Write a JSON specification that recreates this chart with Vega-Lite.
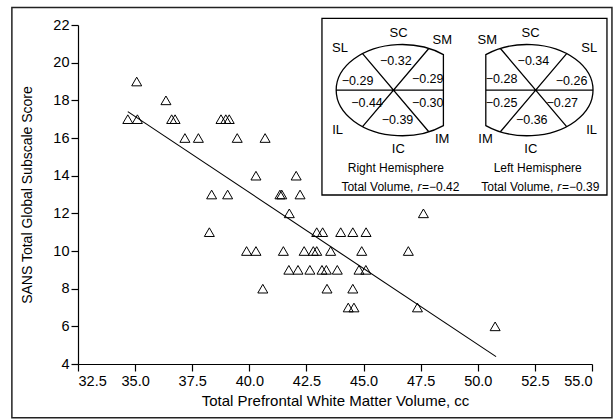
{
  "$schema": "https://vega.github.io/schema/vega-lite/v6.json",
  "width": 514,
  "height": 339,
  "autosize": {"type": "none"},
  "padding": {"left": 78, "top": 25, "right": 22, "bottom": 56},
  "background": "white",
  "config": {
    "view": {"stroke": null},
    "font": "Liberation Sans",
    "axis": {
      "grid": false,
      "domainColor": "#000",
      "tickColor": "#000",
      "labelColor": "#000",
      "titleColor": "#000",
      "titleFontWeight": "normal",
      "labelFont": "Liberation Sans",
      "titleFont": "Liberation Sans",
      "labelFontSize": 14.5,
      "titleFontSize": 15,
      "tickSize": 7,
      "domainWidth": 1.2,
      "tickWidth": 1.2,
      "labelOverlap": false
    }
  },
  "datasets": {
    "points": [
      {"vol": 34.68, "sans": 17}, {"vol": 35.1, "sans": 17}, {"vol": 35.07, "sans": 19},
      {"vol": 36.35, "sans": 18}, {"vol": 36.6, "sans": 17}, {"vol": 36.75, "sans": 17},
      {"vol": 37.18, "sans": 16}, {"vol": 37.77, "sans": 16}, {"vol": 38.76, "sans": 17},
      {"vol": 38.97, "sans": 17}, {"vol": 39.12, "sans": 17}, {"vol": 39.47, "sans": 16},
      {"vol": 40.69, "sans": 16}, {"vol": 40.29, "sans": 14}, {"vol": 42.05, "sans": 14},
      {"vol": 38.35, "sans": 13}, {"vol": 39.05, "sans": 13}, {"vol": 41.34, "sans": 13},
      {"vol": 41.42, "sans": 13}, {"vol": 42.22, "sans": 13}, {"vol": 41.75, "sans": 12},
      {"vol": 47.62, "sans": 12}, {"vol": 38.25, "sans": 11}, {"vol": 42.95, "sans": 11},
      {"vol": 43.21, "sans": 11}, {"vol": 44.0, "sans": 11}, {"vol": 44.53, "sans": 11},
      {"vol": 45.11, "sans": 11}, {"vol": 39.88, "sans": 10}, {"vol": 40.29, "sans": 10},
      {"vol": 41.49, "sans": 10}, {"vol": 42.4, "sans": 10}, {"vol": 42.8, "sans": 10},
      {"vol": 42.95, "sans": 10}, {"vol": 43.56, "sans": 10}, {"vol": 44.92, "sans": 10},
      {"vol": 46.96, "sans": 10}, {"vol": 41.73, "sans": 9}, {"vol": 42.13, "sans": 9},
      {"vol": 42.65, "sans": 9}, {"vol": 43.18, "sans": 9}, {"vol": 43.37, "sans": 9},
      {"vol": 43.85, "sans": 9}, {"vol": 44.8, "sans": 9}, {"vol": 45.1, "sans": 9},
      {"vol": 40.59, "sans": 8}, {"vol": 43.4, "sans": 8}, {"vol": 44.53, "sans": 8},
      {"vol": 44.33, "sans": 7}, {"vol": 44.58, "sans": 7}, {"vol": 47.36, "sans": 7},
      {"vol": 50.76, "sans": 6}
    ],
    "fit": [
      {"vol": 34.68, "sans": 17.4},
      {"vol": 50.8, "sans": 4.39}
    ],
    "hemis": [
      {"hemi": "Right", "u": 25.1, "v": 36.8},
      {"hemi": "Left", "u": 75.0, "v": 36.8}
    ],
    "regions": [
      {"t": "SL", "u": 6.3, "v": 51.5}, {"t": "SC", "u": 26.9, "v": 56.7}, {"t": "SM", "u": 42.2, "v": 54.5},
      {"t": "IL", "u": 5.5, "v": 22.8}, {"t": "IC", "u": 26.8, "v": 16.1}, {"t": "IM", "u": 42.2, "v": 19.6},
      {"t": "SM", "u": 58.0, "v": 54.5}, {"t": "SC", "u": 73.2, "v": 56.7}, {"t": "SL", "u": 93.8, "v": 51.5},
      {"t": "IM", "u": 57.4, "v": 19.6}, {"t": "IC", "u": 73.3, "v": 16.1}, {"t": "IL", "u": 94.6, "v": 22.8}
    ],
    "values": [
      {"t": "−0.32", "u": 25.9, "v": 47.0}, {"t": "−0.29", "u": 12.5, "v": 40.0}, {"t": "−0.29", "u": 37.1, "v": 40.8},
      {"t": "−0.44", "u": 15.8, "v": 32.4}, {"t": "−0.30", "u": 37.1, "v": 32.2}, {"t": "−0.39", "u": 26.5, "v": 26.3},
      {"t": "−0.34", "u": 74.2, "v": 47.0}, {"t": "−0.28", "u": 63.0, "v": 40.6}, {"t": "−0.26", "u": 87.6, "v": 40.0},
      {"t": "−0.25", "u": 63.0, "v": 32.2}, {"t": "−0.27", "u": 84.3, "v": 32.4}, {"t": "−0.36", "u": 73.6, "v": 26.3}
    ],
    "captions": [
      {"part": "head", "t": "Right Hemisphere", "u": 25.9, "v": 9.4},
      {"part": "head", "t": "Left Hemisphere", "u": 75.7, "v": 9.4},
      {"part": "tv", "t": "Total Volume,", "u": 32.1, "v": 2.9},
      {"part": "tv", "t": "Total Volume,", "u": 81.2, "v": 2.9},
      {"part": "r", "t": "r", "u": 33.5, "v": 2.9},
      {"part": "r", "t": "r", "u": 82.6, "v": 2.9},
      {"part": "rv", "t": "=−0.42", "u": 35.1, "v": 2.9},
      {"part": "rv", "t": "=−0.39", "u": 84.2, "v": 2.9}
    ]
  },
  "resolve": {"scale": {"x": "independent", "y": "independent"}},
  "layer": [
    {
      "layer": [
        {
          "data": {"name": "points"},
          "mark": {"type": "point", "shape": "triangle-up", "size": 100, "filled": false, "stroke": "#000", "strokeWidth": 1, "opacity": 1},
          "encoding": {
            "x": {"field": "vol", "type": "quantitative", "title": "Total Prefrontal White Matter Volume, cc",
                  "scale": {"domain": [32.5, 55], "nice": false, "zero": false},
                  "axis": {"values": [32.5, 35, 37.5, 40, 42.5, 45, 47.5, 50, 52.5, 55], "format": ".1f", "labelPadding": 3, "titlePadding": 6, "labelOverlap": false}},
            "y": {"field": "sans", "type": "quantitative", "title": "SANS Total Global Subscale Score",
                  "scale": {"domain": [4, 22], "nice": false, "zero": false},
                  "axis": {"values": [4, 6, 8, 10, 12, 14, 16, 18, 20, 22], "labelPadding": 2, "titlePadding": 18, "titleFontSize": 14, "labelOverlap": false}}
          }
        },
        {
          "data": {"name": "fit"},
          "mark": {"type": "line", "color": "#000", "strokeWidth": 1.1},
          "encoding": {
            "x": {"field": "vol", "type": "quantitative", "title": "Total Prefrontal White Matter Volume, cc",
                  "axis": {"values": [32.5, 35, 37.5, 40, 42.5, 45, 47.5, 50, 52.5, 55], "format": ".1f", "labelPadding": 3, "titlePadding": 6, "labelOverlap": false}},
            "y": {"field": "sans", "type": "quantitative", "title": "SANS Total Global Subscale Score",
                  "axis": {"values": [4, 6, 8, 10, 12, 14, 16, 18, 20, 22], "labelPadding": 2, "titlePadding": 18, "titleFontSize": 14, "labelOverlap": false}}
          }
        }
      ]
    },
    {
      "layer": [
        {
          "data": {"values": [{}]},
          "mark": {"type": "rect", "filled": false, "stroke": "#222", "strokeWidth": 1.5},
          "encoding": {
            "x": {"datum": -108.8, "type": "quantitative", "scale": {"domain": [-85.6, 94.75], "nice": false, "zero": false}, "axis": null},
            "x2": {"datum": 101.75},
            "y": {"datum": 65.8, "type": "quantitative", "scale": {"domain": [-59.3, 59.65], "nice": false, "zero": false}, "axis": null},
            "y2": {"datum": -78.2}
          }
        },
        {
          "data": {"values": [{}]},
          "mark": {"type": "rect", "fill": "white", "stroke": "#000", "strokeWidth": 1.3},
          "encoding": {
            "x": {"datum": 0, "type": "quantitative"},
            "x2": {"datum": 100},
            "y": {"datum": 0, "type": "quantitative"},
            "y2": {"datum": 62}
          }
        },
        {
          "data": {"name": "hemis"},
          "mark": {"type": "point", "size": 13133, "filled": false, "stroke": "#000", "strokeWidth": 1.3, "opacity": 1},
          "encoding": {
            "x": {"field": "u", "type": "quantitative"},
            "y": {"field": "v", "type": "quantitative"},
            "shape": {"field": "hemi", "type": "nominal", "legend": null,
              "scale": {"domain": ["Right", "Left"],
                "range": [
                  "M 0.871 -0.619 A 1.149 0.796 0 1 0 0.871 0.619 Z M 0.871 0 L -1 0 M 0.616 -0.727 L -0.54 0.637 M -0.54 -0.637 L 0.616 0.727",
                  "M -0.871 -0.619 A 1.149 0.796 0 1 1 -0.871 0.619 Z M -0.871 0 L 1 0 M -0.616 -0.727 L 0.54 0.637 M 0.54 -0.637 L -0.616 0.727"
                ]}}
          }
        },
        {
          "data": {"name": "regions"},
          "mark": {"type": "text", "fontSize": 13, "color": "#000", "align": "center", "baseline": "middle"},
          "encoding": {
            "x": {"field": "u", "type": "quantitative"},
            "y": {"field": "v", "type": "quantitative"},
            "text": {"field": "t"}
          }
        },
        {
          "data": {"name": "values"},
          "mark": {"type": "text", "fontSize": 12.5, "color": "#000", "align": "center", "baseline": "middle"},
          "encoding": {
            "x": {"field": "u", "type": "quantitative"},
            "y": {"field": "v", "type": "quantitative"},
            "text": {"field": "t"}
          }
        },
        {
          "data": {"name": "captions"},
          "transform": [{"filter": "datum.part == 'head'"}],
          "mark": {"type": "text", "fontSize": 12, "color": "#000", "align": "center", "baseline": "middle"},
          "encoding": {
            "x": {"field": "u", "type": "quantitative"},
            "y": {"field": "v", "type": "quantitative"},
            "text": {"field": "t"}
          }
        },
        {
          "data": {"name": "captions"},
          "transform": [{"filter": "datum.part == 'tv'"}],
          "mark": {"type": "text", "fontSize": 12, "color": "#000", "align": "right", "baseline": "middle"},
          "encoding": {
            "x": {"field": "u", "type": "quantitative"},
            "y": {"field": "v", "type": "quantitative"},
            "text": {"field": "t"}
          }
        },
        {
          "data": {"name": "captions"},
          "transform": [{"filter": "datum.part == 'r'"}],
          "mark": {"type": "text", "fontSize": 12, "fontStyle": "italic", "color": "#000", "align": "left", "baseline": "middle"},
          "encoding": {
            "x": {"field": "u", "type": "quantitative"},
            "y": {"field": "v", "type": "quantitative"},
            "text": {"field": "t"}
          }
        },
        {
          "data": {"name": "captions"},
          "transform": [{"filter": "datum.part == 'rv'"}],
          "mark": {"type": "text", "fontSize": 12, "color": "#000", "align": "left", "baseline": "middle"},
          "encoding": {
            "x": {"field": "u", "type": "quantitative"},
            "y": {"field": "v", "type": "quantitative"},
            "text": {"field": "t"}
          }
        }
      ]
    }
  ]
}
